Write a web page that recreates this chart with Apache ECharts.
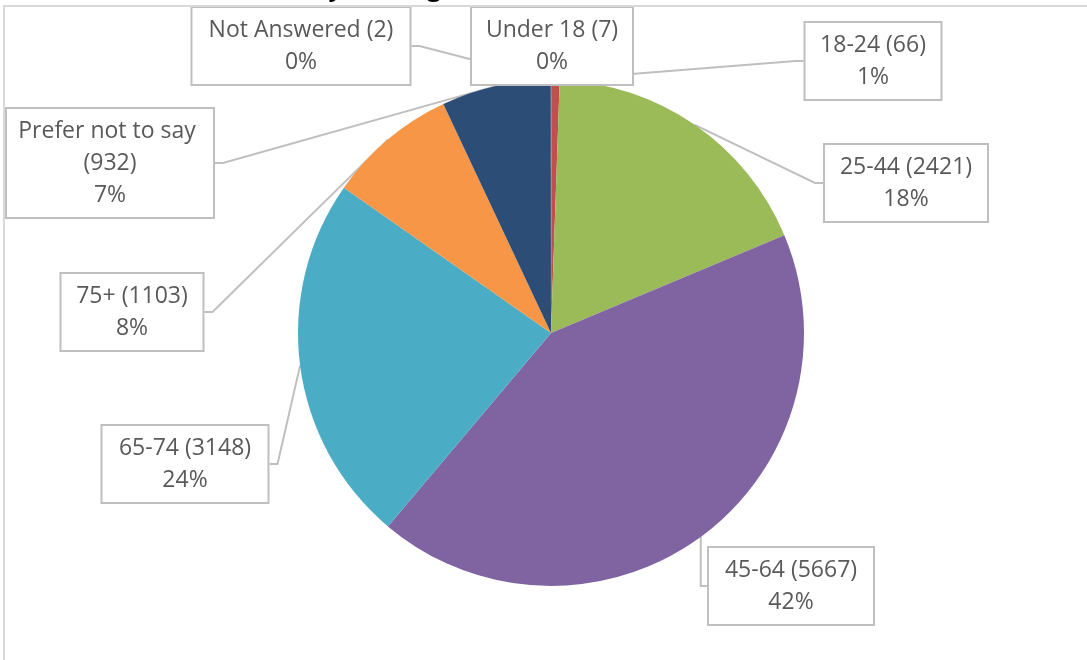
<!DOCTYPE html>
<html>
<head>
<meta charset="utf-8">
<title>Respondents by age</title>
<script src="https://cdn.jsdelivr.net/npm/echarts@6/dist/echarts.min.js"></script>
<style>
  html, body { margin: 0; padding: 0; background: #fff; }
  #chart { width: 1087px; height: 660px; }
</style>
</head>
<body>
<div id="chart"></div>
<script>
// slices in the order Excel draws them, clockwise from 12 o'clock
const categories = ['Under 18', '18-24', '25-44', '45-64', '65-74', '75+', 'Prefer not to say', 'Not Answered'];
const counts = [7, 66, 2421, 5667, 3148, 1103, 932, 2];
const sliceColors = ['#4F81BD', '#C0504D', '#9BBB59', '#8064A2', '#4BACC6', '#F79646', '#2C4D75', '#772C2A'];

// callouts were dragged by hand in the original, so their spots are kept here
const calloutPos = [
  [552, 46], [873, 61], [906, 183], [791, 586],
  [185, 464], [132, 312], [110, 163], [301, 46],
];
const calloutWidth = [140, 115, 142, 144, 145, 121, 186, 197];

const chartView = echarts.init(document.getElementById('chart'));

const seriesData = categories.map((name, i) => ({
  name,
  value: counts[i],
  itemStyle: { color: sliceColors[i] },
  label: { width: calloutWidth[i] },
}));

const option = {
  animation: false,
  // title is cut off by the top of the picture, only the descenders show
  title: {
    text: 'Survey Findings',
    left: 253,
    top: -29,
    textStyle: {
      fontFamily: 'Open Sans',
      fontWeight: 'bold',
      fontSize: 25,
      color: '#000',
    },
  },
  graphic: [
    {
      type: 'rect',
      z: 100,
      silent: true,
      shape: { x: 4, y: 6, width: 1200, height: 700 },
      style: { fill: 'none', stroke: '#D9D9D9', lineWidth: 2 },
    },
  ],
  series: [
    {
      type: 'pie',
      center: [551, 333],
      radius: 253,
      startAngle: 90,
      clockwise: true,
      percentPrecision: 0,
      avoidLabelOverlap: false,
      minShowLabelAngle: 0,
      itemStyle: { borderWidth: 0 },
      emphasis: { disabled: true },
      label: {
        show: true,
        position: 'outside',
        formatter: '{b} ({c})\n{d}%',
        fontFamily: 'Open Sans',
        fontSize: 23,
        lineHeight: 32,
        color: '#595959',
        align: 'center',
        overflow: 'break',
        backgroundColor: '#fff',
        borderColor: '#BFBFBF',
        borderWidth: 2,
        padding: [6, 10],
      },
      labelLine: {
        show: true,
        length: 8,
        length2: 8,
        lineStyle: { color: '#BFBFBF', width: 2 },
      },
      labelLayout(params) {
        const p = calloutPos[params.dataIndex];
        return { x: p[0], y: p[1], align: 'center', verticalAlign: 'middle' };
      },
      data: seriesData,
    },
  ],
};

chartView.setOption(option);
</script>
</body>
</html>
